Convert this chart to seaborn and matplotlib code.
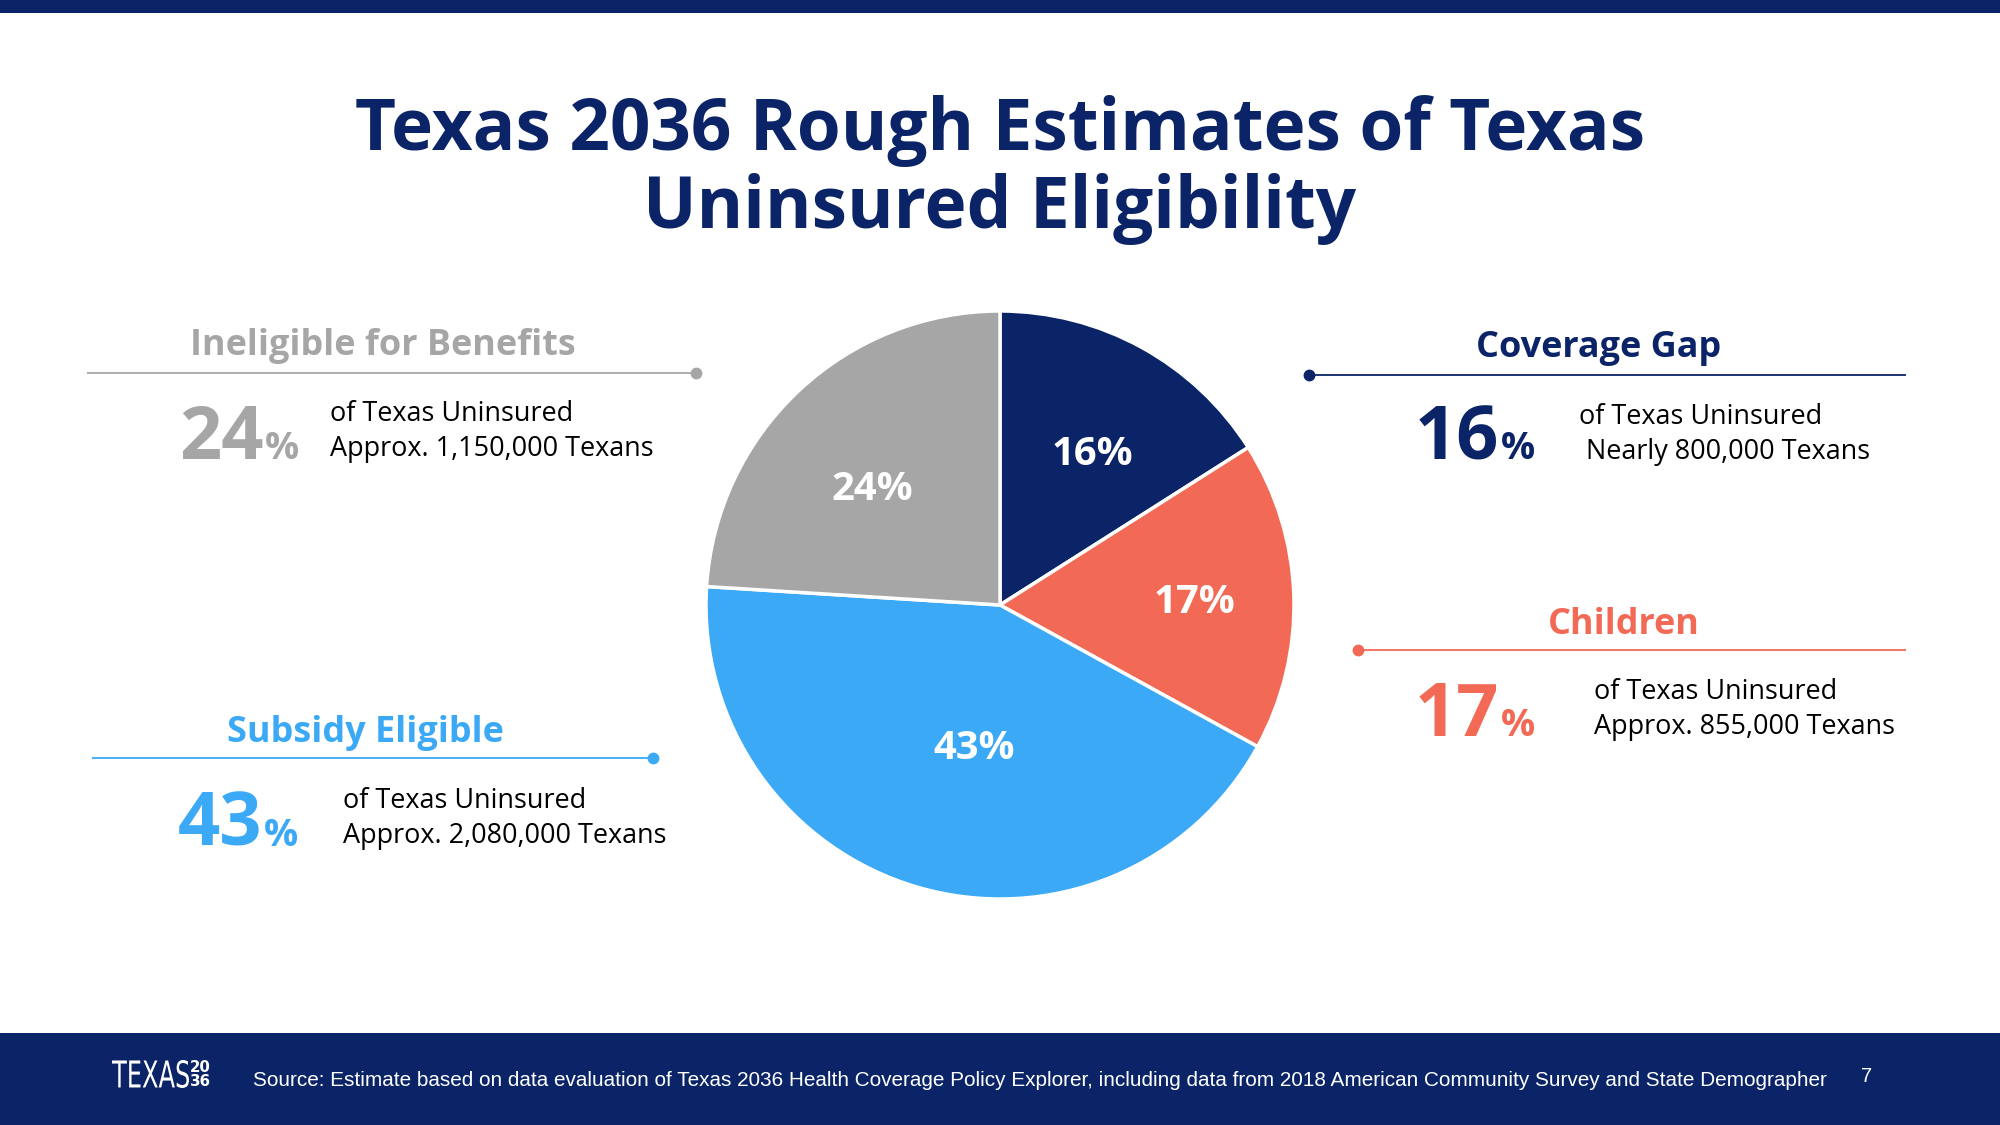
import matplotlib
matplotlib.use("Agg")
import matplotlib.pyplot as plt
import seaborn as sns
import numpy as np
from matplotlib.textpath import TextPath
from matplotlib.patches import PathPatch
from matplotlib.font_manager import FontProperties
from matplotlib.transforms import Affine2D

# ---------------- data ----------------
categories = ["Coverage Gap", "Children", "Subsidy Eligible", "Ineligible for Benefits"]
shares = [16, 17, 43, 24]
texans_lines = ["Nearly 800,000 Texans", "Approx. 855,000 Texans",
                "Approx. 2,080,000 Texans", "Approx. 1,150,000 Texans"]
title_text = "Texas 2036 Rough Estimates of Texas\nUninsured Eligibility"
source_text = ("Source: Estimate based on data evaluation of Texas 2036 Health Coverage Policy Explorer, "
               "including data from 2018 American Community Survey and State Demographer")
page_number = "7"

NAVY = "#0a2467"
CORAL = "#f26a55"
BLUE = "#3ca9f6"
GRAY = "#a6a6a6"
colors = [NAVY, CORAL, BLUE, GRAY]

sns.set_theme(style="white")
plt.rcParams["font.family"] = ["Open Sans", "DejaVu Sans"]

W, H = 2000, 1125
fig = plt.figure(figsize=(20, 11.25), dpi=100)
fig.patch.set_facecolor("white")

# overlay axes in pixel coordinates (y downward)
ov = fig.add_axes([0, 0, 1, 1])
ov.set_xlim(0, W)
ov.set_ylim(H, 0)
ov.axis("off")

def pt(px):
    return px * 0.72

# top bar and footer
ov.add_patch(plt.Rectangle((0, 0), W, 13, color=NAVY, lw=0))
ov.add_patch(plt.Rectangle((0, 1033), W, H - 1033, color=NAVY, lw=0))

# title
ov.text(1000, 170, title_text, ha="center", va="center", fontsize=pt(71),
        fontweight="bold", color=NAVY, linespacing=1.1)

# pie
cx, cy, R = 1000, 605, 294
pax = fig.add_axes([(cx - R) / W, (H - cy - R) / H, 2 * R / W, 2 * R / H])
wedges, _ = pax.pie(shares, colors=colors, startangle=90, counterclock=False,
                    wedgeprops=dict(edgecolor="white", linewidth=2.5))
pax.set_xlim(-1, 1)
pax.set_ylim(-1, 1)
pax.set_aspect("auto")
label_dist = [0.613, 0.663, 0.481, 0.595]
label_rot = [-1.9, 0.3, 5.7, 3.6]
for w, v, d, a in zip(wedges, shares, label_dist, label_rot):
    ang = np.deg2rad((w.theta1 + w.theta2) / 2 + a)
    pax.text(d * np.cos(ang), d * np.sin(ang), f"{v}%", ha="center", va="center_baseline",
             fontsize=pt(40), fontweight="bold", color="white")

fig.canvas.draw()
renderer = fig.canvas.get_renderer()

def callout(i, head_xy, line_x0, line_x1, line_y, dot_x, num_x, num_base, txt_x, txt_y1, txt_y2, line2):
    col = colors[i]
    ov.text(head_xy[0], head_xy[1], categories[i], ha="center", va="center",
            fontsize=pt(36), fontweight="bold", color=col)
    ov.plot([line_x0, line_x1], [line_y, line_y], color=col, lw=1.3, solid_capstyle="butt")
    ov.plot([dot_x], [line_y], "o", color=col, ms=7.5, mec=col)
    t = ov.text(num_x, num_base, f"{shares[i]}", ha="left", va="baseline",
                fontsize=pt(74), fontweight="bold", color=col)
    bb = t.get_window_extent(renderer=renderer)
    ov.text(bb.x1 + 1, num_base, "%", ha="left", va="baseline",
            fontsize=pt(38), fontweight="bold", color=col)
    ov.text(txt_x, txt_y1, "of Texas Uninsured", ha="left", va="center",
            fontsize=pt(27), color="black")
    ov.text(txt_x, txt_y2, line2, ha="left", va="center",
            fontsize=pt(27), color="black")

# Ineligible (left top)
callout(3, (383, 346), 87, 696, 373, 696, 179, 459, 330, 414, 449, texans_lines[3])
# Subsidy (left bottom)
callout(2, (365, 733), 92, 653, 758, 653, 178, 846, 343, 801, 836, texans_lines[2])
# Coverage gap (right top)
callout(0, (1599, 348), 1309, 1906, 375, 1309, 1415, 459, 1579, 417, 452, " " + texans_lines[0])
# Children (right bottom)
callout(1, (1624, 625), 1358, 1906, 650, 1358, 1415, 736, 1594, 692, 727, texans_lines[1])

# footer logo: condensed "TEXAS" fitted into its box
tp = TextPath((0, 0), "TEXAS", size=100, prop=FontProperties(family="DejaVu Sans", weight="normal"))
ext = tp.get_extents()
bx0, by0, bx1, by1 = 112, 1060, 189, 1088
sx = (bx1 - bx0) / ext.width
sy = (by1 - by0) / ext.height
tr = Affine2D().translate(-ext.x0, -ext.y0).scale(sx, -sy).translate(bx0, by1)
ov.add_patch(PathPatch(tr.transform_path(tp), facecolor="white", edgecolor="none"))
ov.text(200, 1067, "20", ha="center", va="center", fontsize=pt(15), color="white",
        family=["DejaVu Sans"], fontweight="bold")
ov.text(200, 1081, "36", ha="center", va="center", fontsize=pt(15), color="white",
        family=["DejaVu Sans"], fontweight="bold")
ov.text(253, 1081, source_text, ha="left", va="center", fontsize=pt(20.8), color="white",
        family=["Liberation Sans", "DejaVu Sans"])
ov.text(1867, 1077, page_number, ha="center", va="center", fontsize=pt(20), color="white",
        family=["Liberation Sans", "DejaVu Sans"])

fig.savefig("out.png", dpi=100, facecolor="white")
